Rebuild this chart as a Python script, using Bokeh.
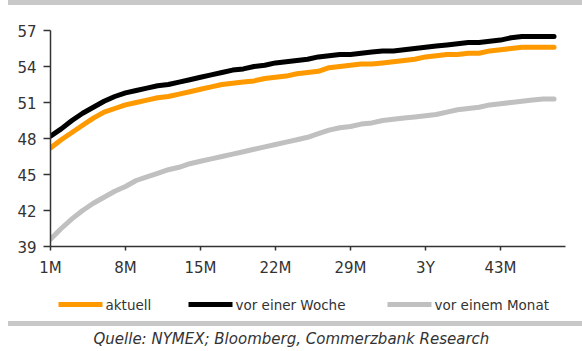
from bokeh.plotting import figure
from bokeh.layouts import column
from bokeh.models import Range1d, FixedTicker, Div
from bokeh.core.properties import value
from bokeh.embed import file_html
from bokeh.resources import INLINE

# Forward curve, months ahead
months = list(range(1, 49))

aktuell = [47.2, 47.9, 48.5, 49.1, 49.7, 50.2, 50.5, 50.8, 51.0, 51.2,
           51.4, 51.5, 51.7, 51.9, 52.1, 52.3, 52.5, 52.6, 52.7, 52.8,
           53.0, 53.1, 53.2, 53.4, 53.5, 53.6, 53.9, 54.0, 54.1, 54.2,
           54.2, 54.3, 54.4, 54.5, 54.6, 54.8, 54.9, 55.0, 55.0, 55.1,
           55.1, 55.3, 55.4, 55.5, 55.6, 55.6, 55.6, 55.6]

vor_einer_woche = [48.2, 48.8, 49.5, 50.1, 50.6, 51.1, 51.5, 51.8, 52.0, 52.2,
                   52.4, 52.5, 52.7, 52.9, 53.1, 53.3, 53.5, 53.7, 53.8, 54.0,
                   54.1, 54.3, 54.4, 54.5, 54.6, 54.8, 54.9, 55.0, 55.0, 55.1,
                   55.2, 55.3, 55.3, 55.4, 55.5, 55.6, 55.7, 55.8, 55.9, 56.0,
                   56.0, 56.1, 56.2, 56.4, 56.5, 56.5, 56.5, 56.5]

vor_einem_monat = [39.6, 40.5, 41.3, 42.0, 42.6, 43.1, 43.6, 44.0, 44.5, 44.8,
                   45.1, 45.4, 45.6, 45.9, 46.1, 46.3, 46.5, 46.7, 46.9, 47.1,
                   47.3, 47.5, 47.7, 47.9, 48.1, 48.4, 48.7, 48.9, 49.0, 49.2,
                   49.3, 49.5, 49.6, 49.7, 49.8, 49.9, 50.0, 50.2, 50.4, 50.5,
                   50.6, 50.8, 50.9, 51.0, 51.1, 51.2, 51.3, 51.3]

x_tick_pos = [1, 8, 15, 22, 29, 36, 43]
x_tick_labels = ["1M", "8M", "15M", "22M", "29M", "3Y", "43M"]
y_ticks = [39, 42, 45, 48, 51, 54, 57]

series_names = ["aktuell", "vor einer Woche", "vor einem Monat"]
series_colors = ["#FF9900", "#000000", "#C0C0C0"]
source_note = "Quelle: NYMEX; Bloomberg, Commerzbank Research"

W = 582
LEFT, RIGHT = 50, 17          # shared frame borders of all panels
FONT = "DejaVu Sans"
TEXT_COLOR = "#333333"
RULE_COLOR = "#C8C8C8"


def rule():
    return Div(text="", width=W - 8, height=5, margin=(0, 0, 0, 8),
               styles={"background-color": RULE_COLOR})


def strip(height):
    # text strip whose x/y data coordinates equal page pixels
    f = figure(width=W, height=height,
               x_range=Range1d(LEFT, W - RIGHT), y_range=Range1d(height, 0),
               output_backend="svg", toolbar_location=None,
               min_border_left=LEFT, min_border_right=RIGHT,
               min_border_top=0, min_border_bottom=0,
               outline_line_color=None)
    f.axis.visible = False
    f.grid.visible = False
    return f


# main chart
p = figure(width=W, height=285, x_range=Range1d(1, 49.07), y_range=Range1d(39, 57),
           output_backend="svg", toolbar_location=None,
           min_border_left=LEFT, min_border_right=RIGHT,
           min_border_top=25, min_border_bottom=44,
           outline_line_color=None)
p.grid.visible = False

for vals, col in [(vor_einem_monat, series_colors[2]),
                  (aktuell, series_colors[0]),
                  (vor_einer_woche, series_colors[1])]:
    p.line(months, vals, line_color=col, line_width=5,
           line_join="round", line_cap="round")

p.xaxis.ticker = FixedTicker(ticks=x_tick_pos)
p.xaxis.major_label_overrides = {t: s for t, s in zip(x_tick_pos, x_tick_labels)}
p.yaxis.ticker = FixedTicker(ticks=y_ticks)

for ax in (p.xaxis[0], p.yaxis[0]):
    ax.axis_line_color = TEXT_COLOR
    ax.axis_line_width = 1.5
    ax.major_tick_line_color = TEXT_COLOR
    ax.major_tick_line_width = 1.5
    ax.minor_tick_line_color = None
    ax.major_tick_in = 0
    ax.major_label_text_font = FONT
    ax.major_label_text_font_size = "15px"
    ax.major_label_text_color = TEXT_COLOR
p.xaxis.major_tick_out = 4
p.xaxis.major_label_standoff = 8
p.yaxis.major_tick_out = 7
p.yaxis.major_label_standoff = 7

# legend row
leg = strip(31)
legend_x = [58, 188, 387]
for lx, name, col in zip(legend_x, series_names, series_colors):
    leg.line([lx, lx + 44], [14, 14], line_color=col, line_width=5)
    leg.text([lx + 47], [14.5], text=[name], text_font=value(FONT),
             text_font_size=value("13.5px"), text_color=TEXT_COLOR,
             text_baseline="middle", text_align="left")

# source note
src = strip(25)
src.text([93], [12], text=[source_note], text_font=value(FONT),
         text_font_style="italic", text_font_size=value("15px"),
         text_color=TEXT_COLOR, text_baseline="middle", text_align="left")

layout = column(rule(), p, leg, rule(), src, spacing=0)
open("out.html", "w").write(file_html(layout, INLINE))
